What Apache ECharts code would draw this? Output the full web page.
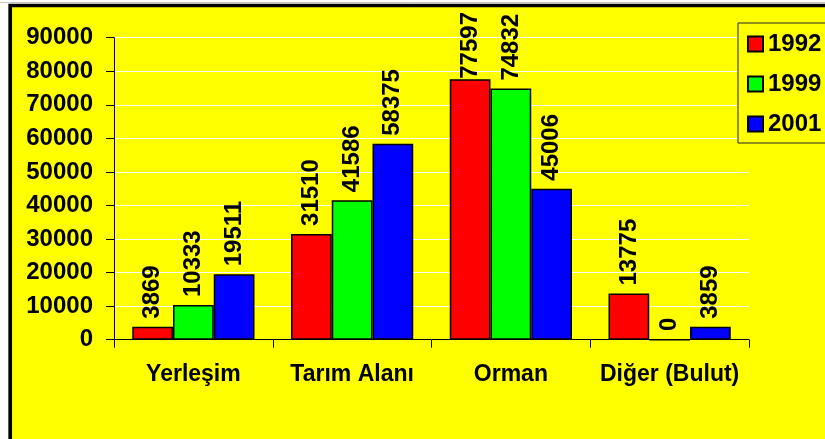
<!DOCTYPE html>
<html>
<head>
<meta charset="utf-8">
<script src="https://cdn.jsdelivr.net/npm/echarts@6/dist/echarts.min.js"></script>
<style>
  html, body { margin: 0; padding: 0; background: #ffffff; }
  #chart { width: 825px; height: 439px; }
</style>
</head>
<body>
<div id="chart"></div>
<script>
// Land-use areas per class for three survey years
const categories = ['Yerleşim', 'Tarım Alanı', 'Orman', 'Diğer (Bulut)'];
const years = ['1992', '1999', '2001'];
const values1992 = [3869, 31510, 77597, 13775];
const values1999 = [10333, 41586, 74832, 0];
const values2001 = [19511, 58375, 45006, 3859];
const yearColors = ['#FF0000', '#00FF00', '#0000FF'];

const FONT = '"Liberation Sans", Arial, sans-serif';
const LABEL_GAP = 8;      // space between a bar top and its value label
const LABEL_TOP_LIMIT = 12; // value labels never rise above this line
const chart = echarts.init(document.getElementById('chart'), null, { renderer: 'canvas' });

const seriesValues = [values1992, values1999, values2001];

const series = years.map((y, i) => ({
  name: y,
  type: 'bar',
  data: seriesValues[i],
  barGap: '0%',
  barCategoryGap: '23%',
  itemStyle: { color: yearColors[i], borderColor: '#000', borderWidth: 1.5 },
  label: {
    show: true,
    position: 'top',
    rotate: 90,
    align: 'left',
    verticalAlign: 'middle',
    distance: LABEL_GAP,
    color: '#000',
    fontFamily: FONT,
    fontSize: 24,
    fontWeight: 'bold'
  },
  // keep tall labels inside the frame by sliding them down toward the bar
  labelLayout: p => {
    const wanted = p.rect.y - LABEL_GAP;
    const minAnchor = LABEL_TOP_LIMIT + p.labelRect.height;
    return wanted < minAnchor ? { y: minAnchor } : {};
  }
}));

chart.setOption({
  backgroundColor: '#ffffff',
  animation: false,
  graphic: [
    { type: 'line', z: -20, shape: { x1: 0, y1: 2.5, x2: 825, y2: 2.5 }, style: { stroke: '#c8c8c8', lineWidth: 1 } },
    { type: 'rect', z: -10, shape: { x: 10.2, y: 5.5, width: 1000, height: 1000 },
      style: { fill: '#FFFF00', stroke: '#000', lineWidth: 3.7 } }
  ],
  grid: { left: 114, right: 76, top: 37.7, bottom: 99.3 },
  legend: {
    data: years,
    orient: 'vertical',
    left: 738,
    top: 23,
    padding: [9, 12, 7, 9],
    itemGap: 16,
    itemWidth: 15,
    itemHeight: 15,
    icon: 'rect',
    borderColor: '#222',
    borderWidth: 1,
    backgroundColor: '#FFFF00',
    textStyle: { fontFamily: FONT, fontSize: 24, fontWeight: 'bold', color: '#000', lineHeight: 24 }
  },
  xAxis: {
    type: 'category',
    data: categories,
    axisLine: { lineStyle: { color: '#000', width: 1 } },
    axisTick: { show: true, length: 8, lineStyle: { color: '#000' } },
    axisLabel: { interval: 0, margin: 23, color: '#000', fontFamily: FONT, fontSize: 23, fontWeight: 'bold' },
    splitLine: { show: false }
  },
  yAxis: {
    type: 'value',
    min: 0,
    max: 90000,
    interval: 10000,
    axisLine: { show: true, lineStyle: { color: '#000', width: 1 } },
    axisTick: { show: true, length: 8, lineStyle: { color: '#000' } },
    axisLabel: { margin: 21, color: '#000', fontFamily: FONT, fontSize: 24, fontWeight: 'bold',
      formatter: v => String(v) },
    splitLine: { show: true, lineStyle: { color: '#ffffff', width: 1 } }
  },
  series: series
});
</script>
</body>
</html>
